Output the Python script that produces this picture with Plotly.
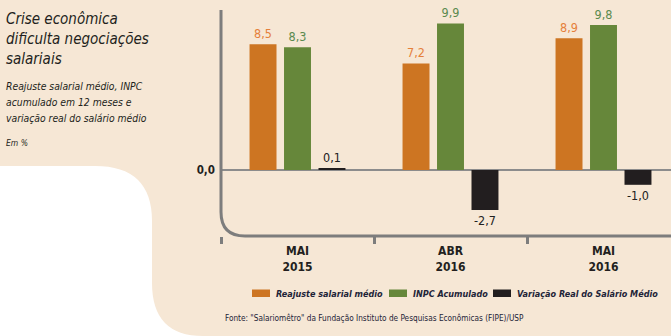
import plotly.graph_objects as go

W, H = 671, 336

categories = ["MAI<br>2015", "ABR<br>2016", "MAI<br>2016"]
series_names = ["Reajuste salarial médio", "INPC Acumulado", "Variação Real do Salário Médio"]
reajuste = [8.5, 7.2, 8.9]
inpc = [8.3, 9.9, 9.8]
variacao = [0.1, -2.7, -1.0]

title_lines = ["Crise econômica", "dificulta negociações", "salariais"]
subtitle_lines = ["Reajuste salarial médio, INPC", "acumulado em 12 meses e", "variação real do salário médio"]
unit_label = "Em %"
source_text = "Fonte: \"Salariomêtro\" da Fundação Instituto de Pesquisas Econômicas (FIPE)/USP"

bar_colors = ["#cd7522", "#66873a", "#221e1f"]
text_colors = ["#e5803a", "#5a8a4e", "#222222"]

FONT = "DejaVu Sans Condensed, Liberation Sans Narrow, Roboto, sans-serif"
DARK = "#231f20"
NAVY = "#1e2438"


def px(x):
    return x / W


def py(y):
    return 1 - y / H


def fmt(v):
    return f"{v:.1f}".replace(".", ",")


fig = go.Figure()
for name, vals, col, tcol in zip(series_names, [reajuste, inpc, variacao], bar_colors, text_colors):
    fig.add_trace(go.Bar(
        x=categories, y=vals, name=name,
        marker=dict(color=col, line=dict(width=0)),
        text=[fmt(v) for v in vals], textposition="outside",
        textfont=dict(color=tcol, size=12.5, family=FONT),
        cliponaxis=False, showlegend=False,
    ))

# plot area in pixels: x 221..671, y 10..236
x0p, x1p, y0p, y1p = 221, 671, 10, 236
ppu = 14.8
y_top = (170 - y0p) / ppu
y_bot = -(y1p - 170) / ppu

shapes = []
white_path = (
    f"M {px(0)},{py(166)} L {px(95)},{py(166)} Q {px(152)},{py(166)} {px(152)},{py(221)} "
    f"L {px(152)},{py(283)} Q {px(152)},{py(336)} {px(203)},{py(336)} L {px(0)},{py(336)} Z"
)
shapes.append(dict(type="path", xref="paper", yref="paper", path=white_path,
                   fillcolor="white", line=dict(width=0), layer="below"))
axis_path = (
    f"M {px(221)},{py(10)} L {px(221)},{py(212)} Q {px(221)},{py(236)} {px(245)},{py(236)} "
    f"L {px(672)},{py(236)}"
)
shapes.append(dict(type="path", xref="paper", yref="paper", path=axis_path,
                   line=dict(color="#7d7d7d", width=3), layer="above"))

annotations = []
for txt, yy in zip(title_lines, [19, 39, 59]):
    annotations.append(dict(text=f"<i>{txt}</i>", x=px(4), y=py(yy), xref="paper", yref="paper",
                            xanchor="left", yanchor="middle", showarrow=False,
                            font=dict(size=15, color=DARK, family=FONT)))
for txt, yy in zip(subtitle_lines, [86, 102, 118]):
    annotations.append(dict(text=f"<i>{txt}</i>", x=px(4), y=py(yy), xref="paper", yref="paper",
                            xanchor="left", yanchor="middle", showarrow=False,
                            font=dict(size=10.3, color=DARK, family=FONT)))
annotations.append(dict(text=f"<i>{unit_label}</i>", x=px(4), y=py(143), xref="paper", yref="paper",
                        xanchor="left", yanchor="middle", showarrow=False,
                        font=dict(size=8.5, color=DARK, family=FONT)))
annotations.append(dict(text=source_text, x=px(223), y=py(318), xref="paper", yref="paper",
                        xanchor="left", yanchor="middle", showarrow=False,
                        font=dict(size=8.2, color=NAVY, family=FONT)))

# legend: swatch + label per series
legend_swatch_x = [252, 389, 493]
for name, col, lx in zip(series_names, bar_colors, legend_swatch_x):
    shapes.append(dict(type="rect", xref="paper", yref="paper",
                       x0=px(lx), x1=px(lx + 18), y0=py(297), y1=py(289.5),
                       fillcolor=col, line=dict(width=0), layer="above"))
    annotations.append(dict(text=f"<b><i>{name}</i></b>", x=px(lx + 22), y=py(293.5),
                            xref="paper", yref="paper", xanchor="left", yanchor="middle",
                            showarrow=False, font=dict(size=9, color=NAVY, family=FONT)))

fig.update_layout(
    width=W, height=H,
    margin=dict(l=0, r=0, t=0, b=0, autoexpand=False),
    paper_bgcolor="#f6e7d5",
    plot_bgcolor="rgba(0,0,0,0)",
    barmode="group", bargap=0.324, bargroupgap=0.218,
    showlegend=False,
    xaxis=dict(domain=[px(x0p), px(x1p)], range=[-0.5, -0.5 + (x1p - x0p) / 153.0],
               showline=False, showgrid=False, zeroline=False,
               ticks="outside", tickson="boundaries", ticklen=7, tickwidth=3, tickcolor="#7d7d7d",
               ticklabelstandoff=6,
               tickfont=dict(size=12, color=DARK, family=FONT, weight="bold"),
               fixedrange=True),
    yaxis=dict(domain=[py(y1p), py(y0p)], range=[y_bot, y_top],
               showline=False, showgrid=False, zeroline=True, zerolinecolor="#8c8c8c", zerolinewidth=1.5,
               tickvals=[0], ticktext=["0,0"], ticks="", ticklabelstandoff=5,
               tickfont=dict(size=11.5, color=DARK, family=FONT, weight="bold"), fixedrange=True),
    shapes=shapes,
    annotations=annotations,
    font=dict(family=FONT),
)

fig.write_html("out.html")
